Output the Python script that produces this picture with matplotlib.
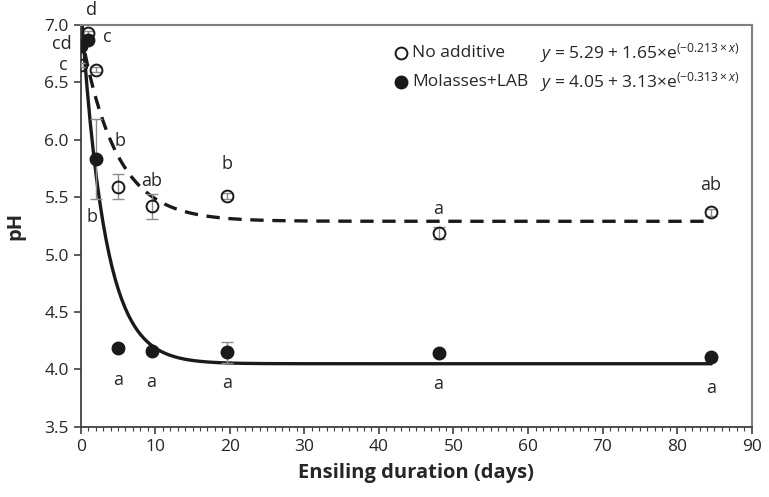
import matplotlib.pyplot as plt
import numpy as np
from matplotlib.ticker import MultipleLocator, FormatStrFormatter

plt.rcParams["font.family"] = ["Open Sans", "DejaVu Sans"]
plt.rcParams["mathtext.fontset"] = "custom"
plt.rcParams["mathtext.rm"] = "Open Sans"
plt.rcParams["mathtext.it"] = "Open Sans:italic"

# ensiling days
days = [0, 1, 2, 5, 9.5, 19.6, 48, 84.5]

# No additive (open circles)
ph_none = [6.65, 6.93, 6.61, 5.59, 5.42, 5.51, 5.19, 5.37]
err_none = [0.02, 0.02, 0.02, 0.11, 0.11, 0.03, 0.05, 0.03]
let_none = ["c", "d", "", "b", "ab", "b", "a", "ab"]

# Molasses + LAB (filled circles)
ph_lab = [6.82, 6.87, 5.83, 4.19, 4.165, 4.15, 4.14, 4.105]
err_lab = [0.02, 0.02, 0.35, 0.02, 0.02, 0.09, 0.02, 0.02]
let_lab = ["cd", "c", "b", "a", "a", "a", "a", "a"]

# fitted models y = a + b*exp(-k*x)
fit_none = (5.29, 1.65, 0.213)
fit_lab = (4.05, 3.13, 0.313)

# label offsets (dx in days, dy in pH) for the letters
off_none = [(-2.3, 0.0), (0.4, 0.2), (0, 0), (0.3, 0.40), (0, 0.22), (0, 0.28), (0, 0.21), (0, 0.24)]
off_lab = [(-2.6, 0.01), (2.6, 0.02), (-0.5, -0.50), (0, -0.28), (0, -0.27), (0, -0.27), (0, -0.27), (0, -0.27)]

fig = plt.figure(figsize=(7.69, 4.97), dpi=100)
ax = fig.add_axes([0.105, 0.141, 0.8725, 0.809])

xs = np.linspace(0, days[-1], 400)
a, b, k = fit_none
ax.plot(xs, a + b * np.exp(-k * xs), color="#1a1a1a", lw=2.4, ls=(0, (4, 2.6)), zorder=2)
a, b, k = fit_lab
ax.plot(xs, a + b * np.exp(-k * xs), color="#1a1a1a", lw=2.4, zorder=2)

ax.errorbar(days, ph_none, yerr=err_none, fmt="none", ecolor="#8c8c8c", elinewidth=1, capsize=4, zorder=3)
ax.errorbar(days, ph_lab, yerr=err_lab, fmt="none", ecolor="#8c8c8c", elinewidth=1, capsize=4, zorder=3)
ax.plot(days, ph_none, "o", ms=8.5, mfc="none", mec="#1a1a1a", mew=1.4, zorder=4)
ax.plot(days, ph_lab, "o", ms=9, mfc="#1a1a1a", mec="#1a1a1a", zorder=4)

for x, y, t, (dx, dy) in zip(days, ph_none, let_none, off_none):
    if t:
        ax.text(x + dx, y + dy, t, ha="center", va="center", fontsize=13, color="#262626", clip_on=False)
for x, y, t, (dx, dy) in zip(days, ph_lab, let_lab, off_lab):
    ax.text(x + dx, y + dy, t, ha="center", va="center", fontsize=13, color="#262626", clip_on=False)

# legend drawn by hand
ax.plot([0.478], [0.93], "o", ms=8.5, mfc="none", mec="#1a1a1a", mew=1.4, transform=ax.transAxes, clip_on=False)
ax.plot([0.478], [0.857], "o", ms=9, mfc="#1a1a1a", mec="#1a1a1a", transform=ax.transAxes, clip_on=False)
ax.text(0.494, 0.93, "No additive", transform=ax.transAxes, va="center", fontsize=12.5, color="#262626")
ax.text(0.494, 0.857, "Molasses+LAB", transform=ax.transAxes, va="center", fontsize=12.5, color="#262626")
ax.text(0.685, 0.93, r"$\mathit{y}$ = 5.29 + 1.65×e$^{(-0.213\times\mathit{x})}$",
        transform=ax.transAxes, va="center", fontsize=12.5, color="#262626")
ax.text(0.685, 0.857, r"$\mathit{y}$ = 4.05 + 3.13×e$^{(-0.313\times\mathit{x})}$",
        transform=ax.transAxes, va="center", fontsize=12.5, color="#262626")

ax.set_xlim(0, 90)
ax.set_ylim(3.5, 7.0)
ax.xaxis.set_major_locator(MultipleLocator(10))
ax.xaxis.set_minor_locator(MultipleLocator(1))
ax.yaxis.set_major_locator(MultipleLocator(0.5))
ax.yaxis.set_major_formatter(FormatStrFormatter("%.1f"))
ax.tick_params(axis="both", which="major", direction="out", length=5, width=1.2, color="#404040",
               labelsize=12.5, labelcolor="#262626")
ax.tick_params(axis="x", which="minor", direction="out", length=3, width=0.8, color="#404040")

for s in ["left", "bottom"]:
    ax.spines[s].set_color("#404040")
    ax.spines[s].set_linewidth(1.3)
for s in ["top", "right"]:
    ax.spines[s].set_color("#808080")
    ax.spines[s].set_linewidth(1.5)

ax.set_xlabel("Ensiling duration (days)", fontsize=14.5, fontweight="bold", color="#262626", labelpad=6)
ax.set_ylabel("pH", fontsize=14.5, fontweight="bold", color="#262626", labelpad=14)

fig.savefig("out.png", dpi=100)
